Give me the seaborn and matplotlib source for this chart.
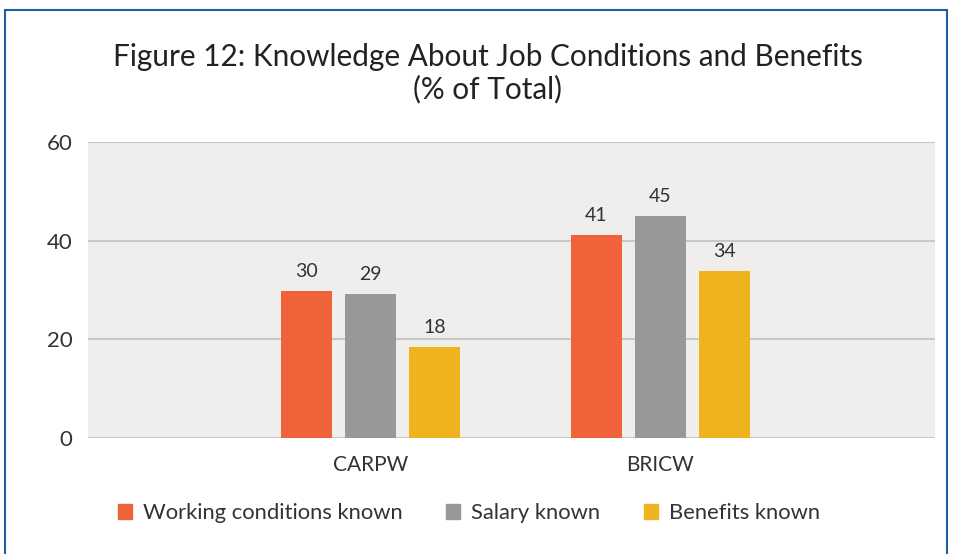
import pandas as pd
import matplotlib.pyplot as plt
import matplotlib.lines as mlines
import seaborn as sns

# Datos
grupos = ["CARPW", "BRICW"]
series = ["Working conditions known", "Salary known", "Benefits known"]
condiciones = [29.7, 41.2]
salario = [29.1, 44.9]
beneficios = [18.4, 33.9]
colores = ["#F0623A", "#98989A", "#EEB31E"]

filas = []
for nombre, valores in zip(series, [condiciones, salario, beneficios]):
    for g, v in zip(grupos, valores):
        filas.append({"Grupo": g, "Serie": nombre, "Valor": v})
df = pd.DataFrame(filas)

sns.set_style("white")
plt.rcParams["font.family"] = ["Lato", "DejaVu Sans"]

fig = plt.figure(figsize=(9.54, 5.54), dpi=100)
ax = fig.add_axes([88 / 954, 116 / 554, 847 / 954, 296 / 554])
ax.set_facecolor("#EFEEEC")

sns.barplot(data=df, x="Grupo", y="Valor", hue="Serie", order=grupos, hue_order=series,
            palette=colores, width=0.662, gap=0.2, saturation=1, linewidth=0,
            ax=ax, zorder=3)

for cont in ax.containers:
    ax.bar_label(cont, labels=[f"{round(b.get_height())}" for b in cont],
                 padding=8, fontsize=14, color="#333333")

ax.set_ylim(0, 60)
ax.set_xlim(-0.974, 1.947)
ax.set_yticks([0, 20, 40, 60])
ax.yaxis.grid(True, color="#C8C8C8", linewidth=1.5, zorder=0)
ax.set_axisbelow(True)
for s in ax.spines.values():
    s.set_visible(False)
ax.tick_params(axis="y", length=0, labelsize=16, colors="#333333", pad=11)
ax.tick_params(axis="x", length=0, labelsize=15, colors="#333333", pad=12)
ax.set_xlabel("")
ax.set_ylabel("")

ax.legend_.remove()
handles = [plt.Rectangle((0, 0), 1, 1, color=c) for c in colores]
fig.legend(handles, series, loc="center", bbox_to_anchor=(469 / 954, 41 / 554), ncol=3,
           frameon=False, fontsize=15.8, handlelength=0.64, handleheight=0.64,
           handletextpad=0.5, columnspacing=2.0, labelcolor="#333333")

fig.text(487.5 / 954, 1 - 73 / 554, "Figure 12: Knowledge About Job Conditions and Benefits\n(% of Total)",
         ha="center", va="center", fontsize=21.4, color="#222222", linespacing=1.15)

# Marco azul
borde = "#1F5FA0"
fig.add_artist(mlines.Line2D([5 / 954, 5 / 954], [0, 1 - 10 / 554], color=borde, lw=1.5))
fig.add_artist(mlines.Line2D([5 / 954, 947 / 954], [1 - 10 / 554, 1 - 10 / 554], color=borde, lw=1.5))
fig.add_artist(mlines.Line2D([947 / 954, 947 / 954], [0, 1 - 10 / 554], color=borde, lw=1.5))

plt.savefig("out.png", dpi=100)
